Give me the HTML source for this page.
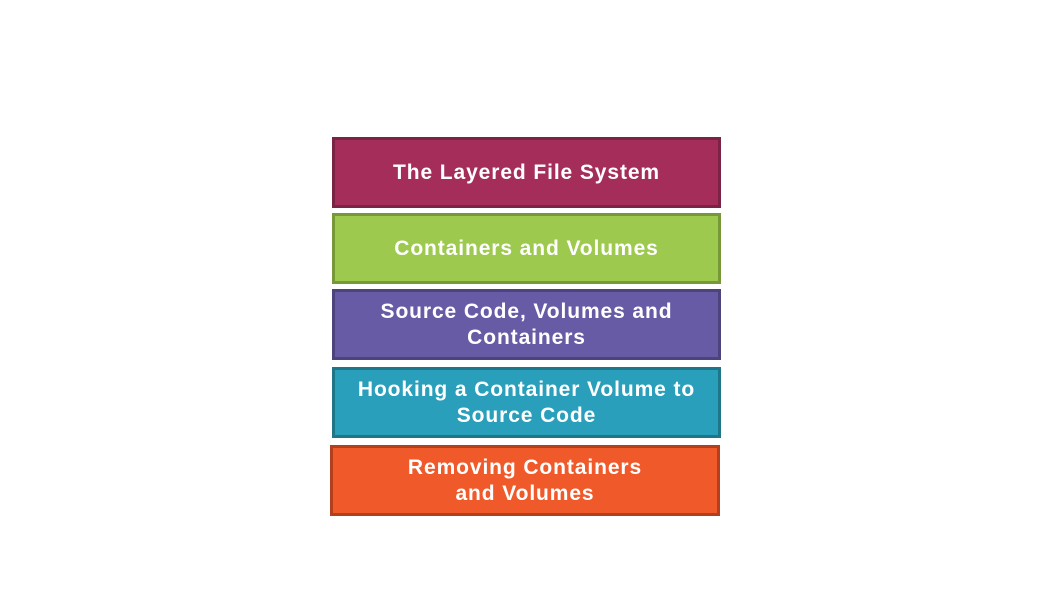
<!DOCTYPE html>
<html><head><style>
body{margin:0;width:1050px;height:590px;background:#fff;position:relative;overflow:hidden;font-family:"Liberation Sans",sans-serif;}
.b{position:absolute;box-sizing:border-box;border:3px solid;display:flex;align-items:center;justify-content:center;text-align:center;color:#fff;font-weight:bold;font-size:21px;letter-spacing:0.9px;line-height:26px;}
</style></head><body>
<div class="b" style="left:332px;top:137px;width:389px;height:71px;background:#a52d5a;border-color:#7b2344">The Layered File System</div>
<div class="b" style="left:332px;top:213px;width:389px;height:71px;background:#9dc94f;border-color:#779838">Containers and Volumes</div>
<div class="b" style="left:332px;top:289px;width:389px;height:71px;background:#685ba6;border-color:#4d437d">Source Code, Volumes and<br>Containers</div>
<div class="b" style="left:332px;top:367px;width:389px;height:71px;background:#2a9fbc;border-color:#1f7689">Hooking a Container Volume to<br>Source Code</div>
<div class="b" style="left:330px;top:445px;width:390px;height:71px;background:#f05a2a;border-color:#b33f1c">Removing Containers<br>and Volumes</div>
</body></html>
